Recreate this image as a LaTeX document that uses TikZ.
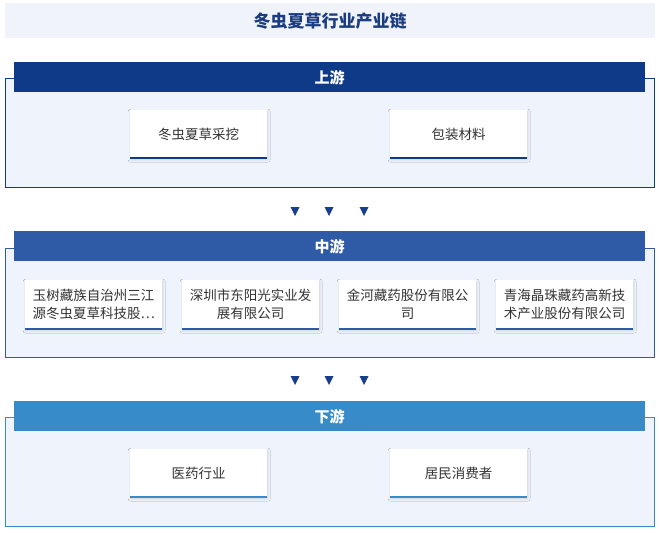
\documentclass[tikz,border=0pt]{standalone}
\usepackage{fontspec}
\setmainfont{Noto Sans CJK SC}
\usetikzlibrary{shadows.blur}
\definecolor{upc}{HTML}{0F3A87}
\definecolor{midc}{HTML}{2E5AA6}
\definecolor{downc}{HTML}{378BC8}
\definecolor{boxfill}{HTML}{EEF3FC}
\definecolor{titlebg}{HTML}{F0F4FA}
\definecolor{titlec}{HTML}{1B3C80}
\definecolor{txtc}{HTML}{333333}
\definecolor{tric}{HTML}{163E8C}
\tikzset{
  panel/.style={draw=#1, line width=1.2pt, fill=boxfill, rectangle, inner sep=0pt, anchor=north west, minimum width=649pt, minimum height=109pt},
  hdr/.style={fill=#1, rectangle, inner sep=0pt, anchor=north west, minimum width=631pt, minimum height=30pt, text=white, font=\bfseries\fontsize{15}{18}\selectfont},
  card/.style={fill=white, rectangle, inner sep=0pt, anchor=north west, minimum width=137pt, minimum height=48pt, text=txtc, align=center, font=\fontsize{13.5}{18}\selectfont, blur shadow={shadow xshift=0.5pt, shadow yshift=-1.5pt, shadow blur radius=2.5pt, shadow blur steps=8, shadow opacity=14}},
  cardline/.style={draw=#1, line width=2pt},
  tri/.style={fill=tric}
}
\begin{document}
\begin{tikzpicture}[x=1pt,y=-1pt]
\useasboundingbox (0,0) rectangle (660,532);
\fill[white] (0,0) rectangle (660,532);
% title
\node[fill=titlebg, rectangle, inner sep=0pt, anchor=north west, minimum width=650pt, minimum height=35pt, text=titlec, font=\bfseries\fontsize{17}{20}\selectfont] (title) at (5,3) {冬虫夏草行业产业链};
% upstream
\node[panel=upc] (upbox) at (5,78) {};
\node[hdr=upc] (uph) at (14,62) {上游};
\node[card] (u1) at (130,110) {冬虫夏草采挖};
\node[card] (u2) at (390,110) {包装材料};
\foreach \n in {u1,u2} \draw[cardline=upc] (\n.south west) -- (\n.south east);
% arrows 1
\foreach \x in {295,329,364} \fill[tri] (\x-4.5,207) -- (\x+4.5,207) -- (\x,216) -- cycle;
% midstream
\node[panel=midc] (midbox) at (5,248) {};
\node[hdr=midc] (midh) at (14,231) {中游};
\node[card, minimum height=49pt] (m1) at (25,280) {玉树藏族自治州三江\\源冬虫夏草科技股…};
\node[card, minimum height=49pt] (m2) at (182,280) {深圳市东阳光实业发\\展有限公司};
\node[card, minimum height=49pt] (m3) at (339,280) {金河藏药股份有限公\\司};
\node[card, minimum height=49pt] (m4) at (496,280) {青海晶珠藏药高新技\\术产业股份有限公司};
\foreach \n in {m1,m2,m3,m4} \draw[cardline=midc] (\n.south west) -- (\n.south east);
% arrows 2
\foreach \x in {295,329,364} \fill[tri] (\x-4.5,376) -- (\x+4.5,376) -- (\x,385) -- cycle;
% downstream
\node[panel=downc] (downbox) at (5,417) {};
\node[hdr=downc] (downh) at (14,401) {下游};
\node[card] (d1) at (130,449) {医药行业};
\node[card] (d2) at (390,449) {居民消费者};
\foreach \n in {d1,d2} \draw[cardline=downc] (\n.south west) -- (\n.south east);
\end{tikzpicture}
\end{document}
